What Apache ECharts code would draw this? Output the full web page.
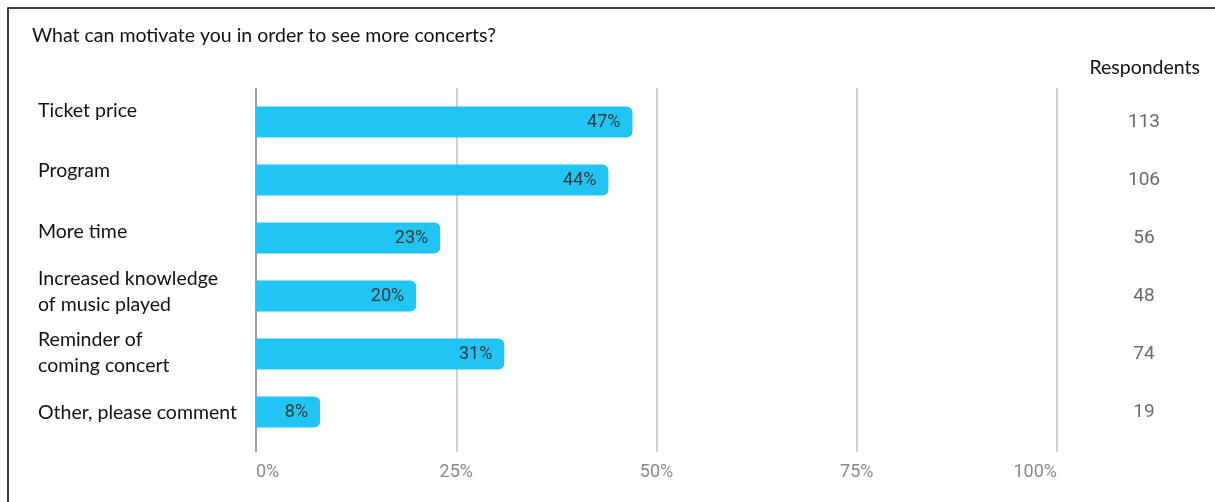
<!DOCTYPE html>
<html>
<head>
<meta charset="utf-8">
<script src="https://cdn.jsdelivr.net/npm/echarts@6/dist/echarts.min.js"></script>
<style>
  html, body { margin: 0; padding: 0; background: #ffffff; }
  #chart { width: 1215px; height: 502px; }
</style>
</head>
<body>
<div id="chart"></div>
<script>
// Survey answers, top to bottom
const categories = [
  'Ticket price',
  'Program',
  'More time',
  'Increased knowledge\nof music played',
  'Reminder of\ncoming concert',
  'Other, please comment'
];
// Share of respondents choosing each answer (%)
const shares = [47, 44, 23, 20, 31, 8];
// Number of respondents per answer
const respondents = [113, 106, 56, 48, 74, 19];
// Percentage axis
const axisMin = 0;
const axisMax = 100;
const axisStep = 25;

const labelFont = 'Lato';
const numberFont = 'Roboto';

const chart = echarts.init(document.getElementById('chart'), null, { renderer: 'canvas' });

chart.setOption({
  backgroundColor: '#ffffff',
  animation: false,
  title: [
    {
      text: 'What can motivate you in order to see more concerts?',
      left: 27,
      top: 21,
      textStyle: { fontFamily: labelFont, fontSize: 19.5, fontWeight: 'normal', color: '#111111' }
    },
    {
      text: 'Respondents',
      right: 10,
      top: 53,
      textStyle: { fontFamily: labelFont, fontSize: 19.5, fontWeight: 'normal', color: '#111111' }
    }
  ],
  graphic: [
    {
      type: 'polyline',
      shape: { points: [[8, 502], [8, 8], [1215, 8]] },
      style: { stroke: '#000000', lineWidth: 1.5, fill: null },
      silent: true
    }
  ],
  grid: [
    // bars and respondent counts
    { left: 256, right: 158, top: 93, height: 348 },
    // gridlines and percentage labels
    { left: 256, right: 158, top: 88, bottom: 50 },
    // answer texts, on a slightly looser vertical rhythm than the bars
    { left: 256, right: 158, top: 80, height: 363 }
  ],
  xAxis: [
    { type: 'value', gridIndex: 0, min: axisMin, max: axisMax, show: false },
    {
      type: 'value', gridIndex: 1, min: axisMin, max: axisMax, interval: axisStep,
      axisLine: { show: false },
      axisTick: { show: false },
      splitLine: { show: true, lineStyle: { color: ['#9e9e9e', '#d0d0d0', '#d0d0d0', '#d0d0d0', '#d0d0d0'], width: 2 } },
      axisLabel: {
        formatter: '{value}%',
        margin: 11,
        color: '#8a8a8a',
        fontFamily: numberFont,
        fontSize: 18,
        alignMinLabel: 'left',
        alignMaxLabel: 'right'
      }
    },
    { type: 'value', gridIndex: 2, min: axisMin, max: axisMax, show: false }
  ],
  yAxis: [
    {
      type: 'category', gridIndex: 0, inverse: true, data: categories,
      show: false
    },
    {
      type: 'category', gridIndex: 0, inverse: true, position: 'right', data: respondents,
      axisLine: { show: false },
      axisTick: { show: false },
      splitLine: { show: false },
      axisLabel: {
        interval: 0,
        align: 'center',
        margin: 87,
        color: '#6a6a6a',
        fontFamily: numberFont,
        fontSize: 19
      }
    },
    { type: 'value', gridIndex: 1, min: 0, max: 1, show: false },
    {
      type: 'category', gridIndex: 2, inverse: true, data: categories,
      axisLine: { show: false },
      axisTick: { show: false },
      splitLine: { show: false },
      axisLabel: {
        interval: 0,
        hideOverlap: false,
        align: 'left',
        margin: 218,
        color: '#111111',
        fontFamily: labelFont,
        fontSize: 19.5,
        lineHeight: 26
      }
    }
  ],
  series: [
    {
      type: 'bar',
      xAxisIndex: 0,
      yAxisIndex: 0,
      data: shares,
      barWidth: 31,
      itemStyle: { color: '#22c4f3', borderRadius: [0, 6, 6, 0] },
      label: {
        show: true,
        position: 'insideRight',
        distance: 12,
        formatter: '{c}%',
        color: '#2f3a40',
        fontFamily: numberFont,
        fontSize: 18
      }
    }
  ]
});
</script>
</body>
</html>
